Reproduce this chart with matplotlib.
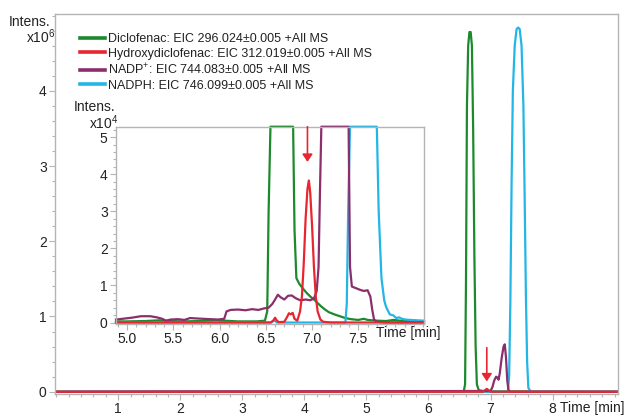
import numpy as np
import matplotlib
matplotlib.use("Agg")
import matplotlib.pyplot as plt
from matplotlib.ticker import MultipleLocator, FixedLocator, FormatStrFormatter

plt.rcParams['font.family'] = ['Liberation Sans', 'DejaVu Sans']
plt.rcParams['mathtext.fontset'] = 'custom'
plt.rcParams['mathtext.rm'] = 'Liberation Sans'
plt.rcParams['mathtext.it'] = 'Liberation Sans'

# ---- trace labels and colours ----
labels = ["Diclofenac: EIC 296.024\u00b10.005 +All MS",
          "Hydroxydiclofenac: EIC 312.019\u00b10.005 +All MS",
          "NADP$^{+}$: EIC 744.083\u00b10.005 +All MS",
          "NADPH: EIC 746.099\u00b10.005 +All MS"]
colors = ["#1c8a2c", "#e8262f", "#8b2e6c", "#22b6e6"]

# ---- full chromatogram (time in min, intensity in 1e6) ----
dcf_t = [0.0, 6.55, 6.57, 6.59, 6.605, 6.62, 6.64, 6.66, 6.68, 6.70, 6.72, 6.74, 6.76, 6.78, 6.81, 6.90, 9.05]
dcf_v = [0.0, 0.0, 0.01, 0.1, 1.5, 3.8, 4.6, 4.78, 4.78, 4.6, 3.5, 1.8, 0.6, 0.1, 0.02, 0.005, 0.0]

ohd_t = [0.0, 6.88, 6.91, 6.94, 6.97, 7.00, 9.05]
ohd_v = [0.0, 0.0, 0.02, 0.038, 0.02, 0.0, 0.0]

ndp_t = [0.0, 7.00, 7.03, 7.06, 7.09, 7.11, 7.13, 7.15, 7.18, 7.21, 7.23, 7.25, 7.27, 7.29, 7.32, 9.05]
ndp_v = [0.0, 0.01, 0.06, 0.15, 0.2, 0.19, 0.16, 0.25, 0.45, 0.6, 0.63, 0.45, 0.15, 0.02, 0.0, 0.0]

nph_t = [0.0, 7.28, 7.30, 7.32, 7.34, 7.36, 7.39, 7.42, 7.445, 7.47, 7.50, 7.53, 7.55, 7.57, 7.59, 7.61, 7.65, 9.05]
nph_v = [0.0, 0.0, 0.2, 1.2, 2.8, 4.0, 4.6, 4.82, 4.84, 4.82, 4.6, 3.8, 2.6, 1.3, 0.4, 0.05, 0.0, 0.0]

# ---- zoomed region (time in min, intensity in 1e4) ----
z_dcf_t = [4.88, 5.0, 5.2, 5.35, 5.45, 5.6, 5.8, 5.95, 6.05, 6.2, 6.4, 6.49, 6.515, 6.53, 6.55, 6.60, 6.67,
           6.74, 6.78, 6.795, 6.81, 6.83, 6.86, 6.89, 6.94, 6.99, 7.03, 7.07, 7.10, 7.14, 7.18, 7.24, 7.30,
           7.36, 7.42, 7.50, 7.56, 7.60, 7.70, 7.80, 7.88, 7.95, 8.05, 8.21]
z_dcf_v = [0.03, 0.03, 0.04, 0.06, 0.04, 0.03, 0.04, 0.07, 0.05, 0.03, 0.03, 0.05, 0.3, 3.0, 12.0, 95.0, 478.0,
           170.0, 12.0, 6.0, 2.5, 1.2, 1.05, 0.95, 0.8, 0.68, 0.6, 0.5, 0.43, 0.35, 0.28, 0.22, 0.17,
           0.12, 0.09, 0.07, 0.1, 0.07, 0.05, 0.04, 0.07, 0.05, 0.04, 0.03]

z_ohd_t = [4.88, 6.55, 6.58, 6.60, 6.62, 6.64, 6.70, 6.73, 6.75, 6.77, 6.79, 6.81, 6.84, 6.87, 6.89, 6.91,
           6.93, 6.95, 6.965, 6.98, 7.00, 7.02, 7.04, 7.06, 7.09, 7.12, 7.20, 8.21]
z_ohd_v = [0.0, 0.0, 0.05, 0.13, 0.05, 0.01, 0.02, 0.15, 0.25, 0.22, 0.26, 0.1, 0.05, 0.3, 0.7, 1.6,
           2.8, 3.6, 3.83, 3.5, 2.6, 1.5, 0.7, 0.3, 0.08, 0.02, 0.0, 0.0]

z_ndp_t = [4.88, 4.95, 5.05, 5.15, 5.25, 5.32, 5.38, 5.42, 5.47, 5.55, 5.62, 5.68, 5.75, 5.82, 5.90, 5.98,
           6.05, 6.075, 6.12, 6.20, 6.28, 6.35, 6.42, 6.48, 6.53, 6.57, 6.60, 6.63, 6.66, 6.70, 6.74, 6.78,
           6.82, 6.87, 6.93, 6.98, 7.02, 7.05, 7.07, 7.085, 7.10, 7.12, 7.25, 7.38, 7.395, 7.41, 7.43,
           7.48, 7.52, 7.56, 7.60, 7.63, 7.65, 7.67, 7.70, 7.80, 8.21]
z_ndp_v = [0.08, 0.1, 0.13, 0.17, 0.17, 0.14, 0.1, 0.05, 0.08, 0.09, 0.07, 0.12, 0.11, 0.1, 0.09, 0.08,
           0.1, 0.3, 0.34, 0.35, 0.33, 0.36, 0.34, 0.38, 0.4, 0.5, 0.62, 0.75, 0.68, 0.62, 0.72, 0.73,
           0.66, 0.6, 0.62, 0.6, 0.65, 0.85, 1.5, 3.5, 6.0, 15.0, 60.0, 12.0, 5.5, 1.5, 0.97,
           0.92, 0.88, 0.85, 0.87, 0.7, 0.35, 0.08, 0.02, 0.0, 0.0]

z_nph_t = [4.88, 6.56, 6.59, 6.62, 7.36, 7.375, 7.39, 7.41, 7.50, 7.60, 7.69, 7.70, 7.72, 7.75, 7.78,
           7.80, 7.84, 7.88, 7.91, 7.94, 7.97, 8.01, 8.06, 8.13, 8.21]
z_nph_v = [0.0, 0.0, 0.06, 0.0, 0.0, 0.5, 3.0, 15.0, 200.0, 200.0, 15.0, 5.5, 3.0, 1.2, 0.6,
           0.42, 0.22, 0.19, 0.12, 0.14, 0.1, 0.08, 0.07, 0.06, 0.05]

main_series = [(dcf_t, dcf_v), (ohd_t, ohd_v), (ndp_t, ndp_v), (nph_t, nph_v)]
zoom_series = [(z_dcf_t, z_dcf_v), (z_ohd_t, z_ohd_v), (z_ndp_t, z_ndp_v), (z_nph_t, z_nph_v)]
draw_order = [0, 3, 2, 1]   # hydroxy trace on top

spine_c = "#b4b4b4"
txt_c = "#222222"
W, H = 630, 415

fig = plt.figure(figsize=(6.3, 4.15), dpi=100)

def px_box(x0, y0, x1, y1):
    return [x0 / W, 1 - y1 / H, (x1 - x0) / W, (y1 - y0) / H]

def style_axes(ax):
    for s in ax.spines.values():
        s.set_color(spine_c)
        s.set_linewidth(1.0)
    ax.tick_params(which='both', direction='out', color=spine_c, labelcolor=txt_c,
                   labelsize=10, pad=2)
    ax.tick_params(which='major', length=4, width=0.8)
    ax.tick_params(which='minor', length=2.5, width=0.8)

# ---------------- main axes ----------------
ax = fig.add_axes(px_box(55, 14, 617.7, 394))
style_axes(ax)
ax.set_xlim(-0.02, 9.05)
ax.set_ylim(-0.03, 5.02)
ax.xaxis.set_major_locator(FixedLocator([1, 2, 3, 4, 5, 6, 7, 8]))
ax.xaxis.set_minor_locator(MultipleLocator(0.2))
ax.yaxis.set_major_locator(FixedLocator([0, 1, 2, 3, 4]))
ax.yaxis.set_minor_locator(MultipleLocator(0.2))
ax.xaxis.set_major_formatter(FormatStrFormatter('%d'))
ax.yaxis.set_major_formatter(FormatStrFormatter('%d'))

for i in draw_order:
    t, v = main_series[i]
    ax.plot(t, v, color=colors[i], lw=1.6, solid_joinstyle='round')
handles = [plt.Line2D([], [], color=colors[i], lw=2.6) for i in range(4)]

ax.annotate("", xy=(6.94, 0.137), xytext=(6.94, 0.585),
            arrowprops=dict(arrowstyle='-|>,head_length=0.45,head_width=0.3',
                            color=colors[1], lw=1.2, mutation_scale=10, shrinkA=0, shrinkB=0))

leg = ax.legend(handles, labels, loc='upper left',
                bbox_to_anchor=(80 / W, 1 - 33 / H), bbox_transform=fig.transFigure,
                frameon=False, borderpad=0, borderaxespad=0, fontsize=9,
                handlelength=2.0, handletextpad=0.2, labelspacing=0.2)
for tx in leg.get_texts():
    tx.set_color(txt_c)

fig.text(50 / W, 1 - 22.5 / H, "Intens.", ha='right', va='center', fontsize=10, color=txt_c)
fig.text(56 / W, 1 - 37 / H, r"x10$^{6}$", ha='right', va='center', fontsize=10, color=txt_c)
fig.text(625 / W, 1 - 408 / H, "Time [min]", ha='right', va='center', fontsize=10, color=txt_c)

# ---------------- zoomed inset ----------------
zx0, zx1 = 4.88, 8.21
zy0, zy1 = -0.04, 5.28
axi = fig.add_axes(px_box(116, 126.7, 424, 324))
axi.set_zorder(5)
axi.set_facecolor("white")
style_axes(axi)
axi.set_xlim(zx0, zx1)
axi.set_ylim(zy0, zy1)
axi.xaxis.set_major_locator(FixedLocator([5.0, 5.5, 6.0, 6.5, 7.0, 7.5]))
axi.xaxis.set_minor_locator(MultipleLocator(0.1))
axi.yaxis.set_major_locator(FixedLocator([0, 1, 2, 3, 4, 5]))
axi.yaxis.set_minor_locator(MultipleLocator(0.2))
axi.xaxis.set_major_formatter(FormatStrFormatter('%.1f'))
axi.yaxis.set_major_formatter(FormatStrFormatter('%d'))

for i in draw_order:
    t, v = zoom_series[i]
    axi.plot(t, np.minimum(np.asarray(v), zy1), color=colors[i], lw=1.6,
             solid_joinstyle='round', clip_on=False)

axi.annotate("", xy=(6.95, 4.33), xytext=(6.95, zy1),
             arrowprops=dict(arrowstyle='-|>,head_length=0.45,head_width=0.3',
                             color=colors[1], lw=1.2, mutation_scale=10, shrinkA=0, shrinkB=0))

fig.text(115 / W, 1 - 107 / H, "Intens.", ha='right', va='center', fontsize=10, color=txt_c, zorder=10)
fig.text(119 / W, 1 - 123 / H, r"x10$^{4}$", ha='right', va='center', fontsize=10, color=txt_c, zorder=10)
fig.text(440 / W, 1 - 333 / H, "Time [min]", ha='right', va='center', fontsize=10, color=txt_c, zorder=10)

fig.savefig("out.png", dpi=100, facecolor="white")
